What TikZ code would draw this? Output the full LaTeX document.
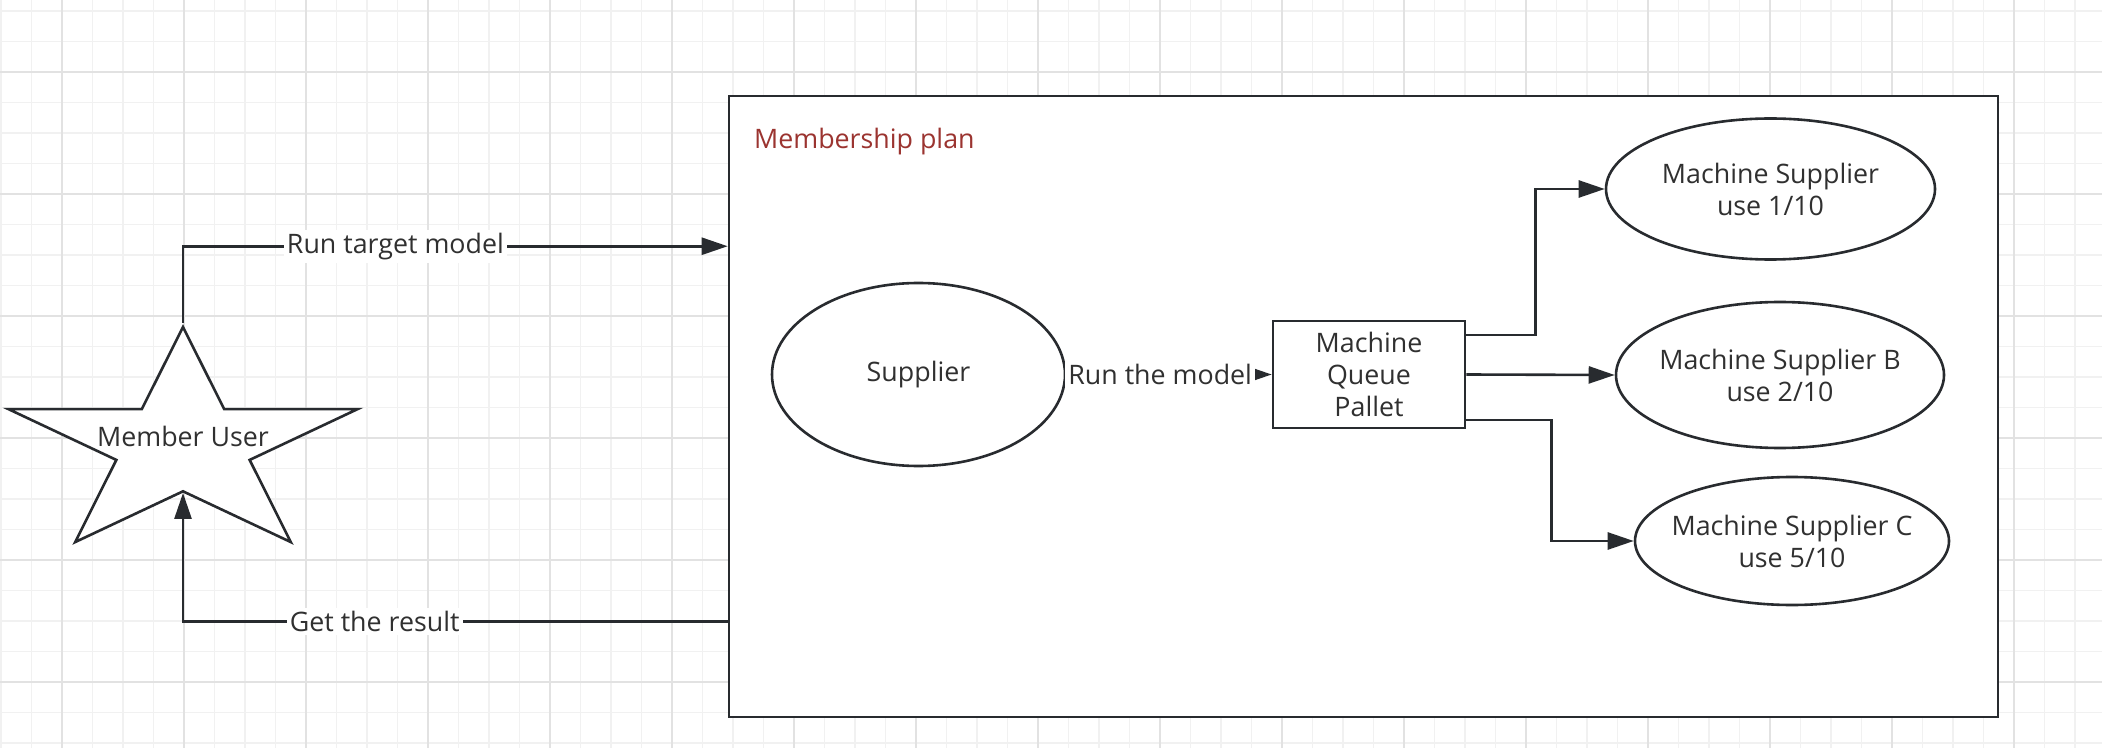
\documentclass[tikz,border=0pt]{standalone}
\usepackage{fontspec}
\setmainfont{Open Sans}
\usetikzlibrary{arrows.meta, calc, positioning, shapes.geometric}
\definecolor{linecol}{RGB}{40, 43, 47}
\definecolor{textcol}{RGB}{48, 48, 48}
\definecolor{plancol}{RGB}{155, 52, 48}
\definecolor{minorcol}{RGB}{241, 241, 241}
\definecolor{majorcol}{RGB}{226, 226, 226}
\tikzset{
  txt/.style      = {font=\fontsize{13.4pt}{16pt}\selectfont, text=textcol,
                     align=center},
  blob/.style     = {txt, ellipse, draw=linecol, line width=1.3pt, fill=white,
                     inner xsep=-15pt, inner ysep=0pt},
  pallet/.style   = {txt, rectangle, draw=linecol, line width=1.3pt,
                     fill=white, inner sep=0pt},
  plan/.style     = {rectangle, draw=linecol, line width=1.3pt, fill=white,
                     inner sep=0pt},
  plantitle/.style = {font=\fontsize{13.4pt}{16pt}\selectfont, text=plancol,
                     inner sep=0pt},
  userstar/.style = {star, star points=5, star point ratio=2.618,
                     draw=linecol, line width=1.3pt, fill=white,
                     inner sep=0pt},
  lbl/.style      = {txt, fill=white, inner sep=1.5pt},
  flow/.style     = {-{Triangle[length=13pt, width=8.5pt]}, draw=linecol,
                     line width=1.3pt},
  % background paper
  gridminor/.style = {draw=minorcol, line width=0.6pt},
  gridmajor/.style = {draw=majorcol, line width=0.8pt},
}

\begin{document}
\begin{tikzpicture}[x=0.5pt, y=0.5pt]
  \useasboundingbox (0,0) rectangle (2102,-748);

  %% ---------------- paper grid ----------------
  \foreach \k in {0,...,68} \draw[gridminor] ({1+30.5*\k},0) -- ++(0,-748);
  \foreach \k in {0,...,24} \draw[gridminor] (0,{-11-30.5*\k}) -- ++(2102,0);
  \foreach \k in {0,...,16} \draw[gridmajor] ({62+122*\k},0) -- ++(0,-748);
  \foreach \k in {0,...,5}  \draw[gridmajor] (0,{-72-122*\k}) -- ++(2102,0);

  %% ---------------- the plan frame ----------------
  \node[plan, minimum width=634.5pt, minimum height=310.5pt]
       (plan) at (1363.5,-406.5) {};
  \node[plantitle, anchor=base west] (plantitle)
       at ($(plan.north west)+(26,-54)$) {Membership plan};

  %% ---------------- member ----------------
  \node[userstar, minimum size=118.9pt, xscale=1.543, transform shape]
       (user) at (183,-445.9) {};
  \node[txt] (usertext) at (183,-436) {Member User};

  %% ---------------- inside the plan ----------------
  \node[blob, minimum width=146.5pt, minimum height=91.5pt]
       (supplier) at (918.5,-374.5) {Supplier};
  \node[pallet, minimum width=96pt, minimum height=53.5pt]
       (queue) at (1369,-374.5) {Machine\\Queue\\Pallet};
  \node[blob, minimum width=164.5pt, minimum height=70.5pt]
       (msa) at (1770.5,-189) {Machine Supplier\\use 1/10};
  \node[blob, minimum width=164pt, minimum height=73pt]
       (msb) at (1780,-375) {Machine Supplier B\\use 2/10};
  \node[blob, minimum width=157pt, minimum height=64pt]
       (msc) at (1792,-541) {Machine Supplier C\\use 5/10};

  %% ---------------- connectors ----------------
  \draw[flow] (user.outer point 1) |- node[lbl, pos=0.695] {Run target model}
       ($(plan.north west)!0.243!(plan.south west)$);
  \draw[flow] ($(plan.north west)!0.845!(plan.south west)$)
       -| node[lbl, pos=0.324] {Get the result} (user.inner point 3);
  \draw[flow] (supplier) -- node[lbl, pos=0.457] {Run the model} (queue);
  \draw[flow] ($(queue.north east)!0.14!(queue.south east)$)
       -- ++(69,0) |- (msa.west);
  \draw[flow] (queue.east) -- (msb.west);
  \draw[flow] ($(queue.north east)!0.916!(queue.south east)$)
       -- ++(85,0) |- (msc.west);

\end{tikzpicture}
\end{document}
